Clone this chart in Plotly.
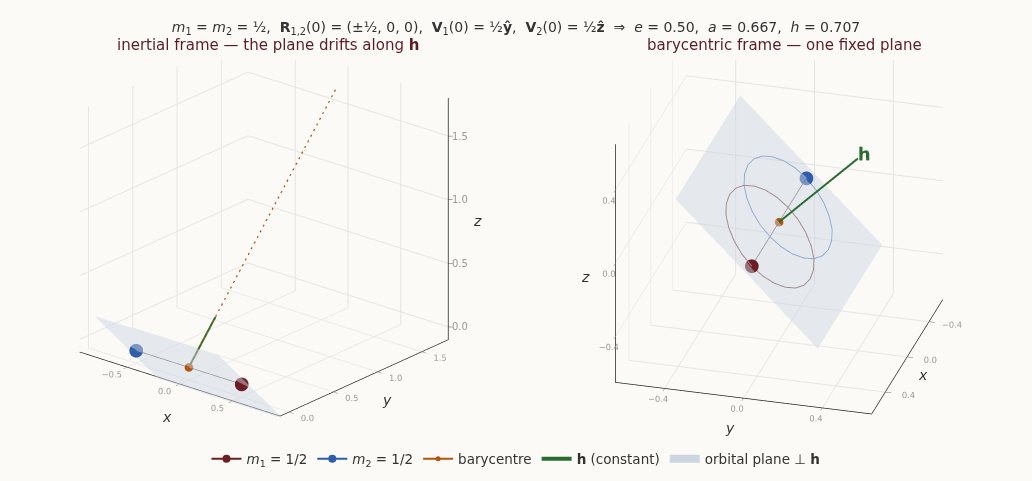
import plotly.graph_objects as go

# colours
C_M1 = "#6b1e24"
C_M2 = "#2e5eaa"
C_BARY = "#b5540f"
C_H = "#2a6b30"
C_PLANE = "#cdd5e1"
C_ORB1 = "#a08587"
C_ORB2 = "#8ea7cf"
BG = "#fbfaf7"

# initial positions (both frames coincide at t=0)
m1_pos = [0.5, 0.0, 0.0]
m2_pos = [-0.5, 0.0, 0.0]
bary_pos = [0.0, 0.0, 0.0]

# barycentre drift in the inertial frame
bary_path_x = [0.0, 0.0]
bary_path_y = [0.0, 1.68]
bary_path_z = [0.0, 1.68]

# h direction (arrow shaft as drawn in each panel)
h_tip_left = [0.0, 0.30, 0.30]
h_tip_right = [0.0, 0.40, 0.40]

# orbital plane corners
plane_x = [-0.59, 0.59, 0.59, -0.59]
plane_y = [-0.36, -0.36, 0.36, 0.36]
plane_z = [0.36, 0.36, -0.36, -0.36]

# orbit of m1 about the barycentre
orb1_x = [-0.167, -0.155, -0.122, -0.069, 0.000, 0.080, 0.167, 0.253, 0.333, 0.402, 0.455, 0.489, 0.500,
          0.489, 0.455, 0.402, 0.333, 0.253, 0.167, 0.080, 0.000, -0.069, -0.122, -0.155, -0.167]
orb1_y = [0.000, 0.053, 0.102, 0.144, 0.177, 0.197, 0.204, 0.197, 0.177, 0.144, 0.102, 0.053, 0.000,
          -0.053, -0.102, -0.144, -0.177, -0.197, -0.204, -0.197, -0.177, -0.144, -0.102, -0.053, 0.000]
orb1_z = [0.000, -0.053, -0.102, -0.144, -0.177, -0.197, -0.204, -0.197, -0.177, -0.144, -0.102, -0.053, 0.000,
          0.053, 0.102, 0.144, 0.177, 0.197, 0.204, 0.197, 0.177, 0.144, 0.102, 0.053, 0.000]
# orbit of m2 about the barycentre
orb2_x = [0.167, 0.155, 0.122, 0.069, 0.000, -0.080, -0.167, -0.253, -0.333, -0.402, -0.455, -0.489, -0.500,
          -0.489, -0.455, -0.402, -0.333, -0.253, -0.167, -0.080, 0.000, 0.069, 0.122, 0.155, 0.167]
orb2_y = [0.000, -0.053, -0.102, -0.144, -0.177, -0.197, -0.204, -0.197, -0.177, -0.144, -0.102, -0.053, 0.000,
          0.053, 0.102, 0.144, 0.177, 0.197, 0.204, 0.197, 0.177, 0.144, 0.102, 0.053, 0.000]
orb2_z = [0.000, 0.053, 0.102, 0.144, 0.177, 0.197, 0.204, 0.197, 0.177, 0.144, 0.102, 0.053, 0.000,
          -0.053, -0.102, -0.144, -0.177, -0.197, -0.204, -0.197, -0.177, -0.144, -0.102, -0.053, 0.000]

# axis ranges and ticks
left_x_range = [-0.95, 0.95]
left_y_range = [-0.1, 1.8]
left_z_range = [-0.1, 1.8]
left_z_ticks = [0.0, 0.5, 1.0, 1.5]
right_range = [-0.65, 0.65]

FONT = "DejaVu Sans"
LEFT_ZOOM = 1.373
RIGHT_ZOOM = 1.396

fig = go.Figure()


def add_plane_and_bodies(scene, legend):
    fig.add_trace(go.Mesh3d(x=plane_x, y=plane_y, z=plane_z, i=[0, 0], j=[1, 2], k=[2, 3],
                            color=C_PLANE, opacity=0.47, flatshading=True, hoverinfo="skip",
                            lighting=dict(ambient=1, diffuse=0, specular=0, roughness=1, fresnel=0),
                            showlegend=False, scene=scene))
    fig.add_trace(go.Scatter3d(x=[m1_pos[0], m2_pos[0]], y=[m1_pos[1], m2_pos[1]], z=[m1_pos[2], m2_pos[2]],
                               mode="lines", line=dict(color="#8a8a8a", width=1.5), showlegend=False,
                               hoverinfo="skip", scene=scene))
    fig.add_trace(go.Scatter3d(x=[m1_pos[0]], y=[m1_pos[1]], z=[m1_pos[2]], mode="lines+markers",
                               marker=dict(size=8, color=C_M1), line=dict(color=C_M1, width=2),
                               name="<i>m</i><sub>1</sub> = 1/2", legendgroup="m1", showlegend=legend, scene=scene))
    fig.add_trace(go.Scatter3d(x=[m2_pos[0]], y=[m2_pos[1]], z=[m2_pos[2]], mode="lines+markers",
                               marker=dict(size=8, color=C_M2), line=dict(color=C_M2, width=2),
                               name="<i>m</i><sub>2</sub> = 1/2", legendgroup="m2", showlegend=legend, scene=scene))


# left panel: the axes live in "scene", the marks in the overlay "scene3"
# (wider hidden ranges so the plane is not cut at the axis box)
fig.add_trace(go.Scatter3d(x=[0], y=[0], z=[0], mode="markers", marker=dict(size=1, opacity=0),
                           hoverinfo="skip", showlegend=False, scene="scene"))
add_plane_and_bodies("scene3", True)
fig.add_trace(go.Scatter3d(x=bary_path_x, y=bary_path_y, z=bary_path_z, mode="lines",
                           line=dict(color=C_BARY, width=2.5, dash="dash"), showlegend=False, scene="scene3"))
fig.add_trace(go.Scatter3d(x=[bary_pos[0]], y=[bary_pos[1]], z=[bary_pos[2]], mode="lines+markers",
                           marker=dict(size=5, color=C_BARY), line=dict(color=C_BARY, width=2),
                           name="barycentre", legendgroup="b", showlegend=True, scene="scene3"))
fig.add_trace(go.Scatter3d(x=[bary_pos[0], h_tip_left[0]], y=[bary_pos[1], h_tip_left[1]],
                           z=[bary_pos[2], h_tip_left[2]],
                           mode="lines", line=dict(color=C_H, width=4), name="<b>h</b> (constant)",
                           legendgroup="h", showlegend=True, scene="scene3"))
# legend entry for the plane
fig.add_trace(go.Scatter3d(x=[None], y=[None], z=[None], mode="lines", line=dict(color=C_PLANE, width=8),
                           name="orbital plane ⊥ <b>h</b>", showlegend=True, scene="scene3"))

# z axis of the left panel on the back-right edge
zx, zy = left_x_range[1], left_y_range[1]
fig.add_trace(go.Scatter3d(x=[zx, zx], y=[zy, zy], z=left_z_range, mode="lines",
                           line=dict(color="#222", width=1.5), hoverinfo="skip", showlegend=False, scene="scene3"))
tick_x, tick_y, tick_z = [], [], []
for t in left_z_ticks:
    tick_x += [zx, zx + 0.025, None]
    tick_y += [zy, zy + 0.021, None]
    tick_z += [t, t, None]
fig.add_trace(go.Scatter3d(x=tick_x, y=tick_y, z=tick_z, mode="lines", line=dict(color="#555", width=1),
                           hoverinfo="skip", showlegend=False, scene="scene3"))

# right panel: barycentric frame
add_plane_and_bodies("scene2", False)
fig.add_trace(go.Scatter3d(x=orb1_x, y=orb1_y, z=orb1_z, mode="lines", line=dict(color=C_ORB1, width=2),
                           showlegend=False, hoverinfo="skip", scene="scene2"))
fig.add_trace(go.Scatter3d(x=orb2_x, y=orb2_y, z=orb2_z, mode="lines", line=dict(color=C_ORB2, width=2),
                           showlegend=False, hoverinfo="skip", scene="scene2"))
fig.add_trace(go.Scatter3d(x=[bary_pos[0], h_tip_right[0]], y=[bary_pos[1], h_tip_right[1]],
                           z=[bary_pos[2], h_tip_right[2]],
                           mode="lines", line=dict(color=C_H, width=4), showlegend=False, scene="scene2"))
fig.add_trace(go.Scatter3d(x=[bary_pos[0]], y=[bary_pos[1]], z=[bary_pos[2]], mode="markers",
                           marker=dict(size=5, color=C_BARY), showlegend=False, scene="scene2"))
fig.add_trace(go.Scatter3d(x=[h_tip_right[0]], y=[h_tip_right[1] * 1.08], z=[h_tip_right[2] * 1.08],
                           mode="text", text=["<b>h</b>"], textposition="middle center",
                           textfont=dict(size=18, color=C_H, family=FONT), showlegend=False, scene="scene2"))
# overlay for the right panel's axis titles
fig.add_trace(go.Scatter3d(x=[0], y=[0], z=[0], mode="markers", marker=dict(size=1, opacity=0),
                           hoverinfo="skip", showlegend=False, scene="scene4"))


def axis(rng, dtick, show_line=True):
    return dict(title=dict(text=""),
                range=rng, dtick=dtick, tickformat=".1f", tickangle=0, showbackground=False,
                gridcolor="#e4e4e4", zeroline=False,
                showline=show_line, linecolor="#222", linewidth=1.5,
                ticks="outside" if show_line else "", ticklen=6, showticklabels=show_line,
                tickcolor="#666", tickfont=dict(size=10, color="#999", family=FONT), showspikes=False)


def hidden(rng, k=3):
    mid = (rng[0] + rng[1]) / 2
    half = (rng[1] - rng[0]) / 2 * k
    return dict(visible=False, range=[mid - half, mid + half])


def axis_label(text, x, y, z):
    return dict(text=f"<i>{text}</i>", x=x, y=y, z=z, showarrow=False,
                font=dict(size=14, color="#333", family=FONT))


def tick_label(t):
    return dict(text=f"{t:.1f}", x=zx + 0.066, y=zy + 0.056, z=t, showarrow=False,
                font=dict(size=10, color="#999", family=FONT))


def ratio(k):
    return dict(x=k, y=k, z=k)


def camera(eye, lift):
    # lift moves the look-at point so the box sits above the centre of its domain
    return dict(eye=dict(x=eye[0], y=eye[1], z=eye[2] + lift), center=dict(x=0, y=0, z=lift),
                projection=dict(type="orthographic"))


LEFT_DOM = dict(x=[0.011, 0.501], y=[0.0, 1.0])
RIGHT_DOM = dict(x=[0.510, 1.0], y=[0.0, 1.0])
LEFT_CAM = camera([0.733, -0.874, 0.470], -0.145)
RIGHT_CAM = camera([1.122, 0.311, 0.580], -0.167)

fig.update_layout(
    width=1032, height=481,
    paper_bgcolor=BG, plot_bgcolor=BG,
    font=dict(family=FONT, color="#333"),
    margin=dict(l=0, r=0, t=60, b=40),
    title=dict(text="<i>m</i><sub>1</sub> = <i>m</i><sub>2</sub> = ½,  <b>R</b><sub>1,2</sub>(0) = (±½, 0, 0),  "
                    "<b>V</b><sub>1</sub>(0) = ½<b>ŷ</b>,  <b>V</b><sub>2</sub>(0) = ½<b>ẑ</b>  ⇒  "
                    "<i>e</i> = 0.50,  <i>a</i> = 0.667,  <i>h</i> = 0.707",
               x=0.5, xanchor="center", y=0.944, yanchor="middle", font=dict(size=14, color="#333")),
    scene=dict(domain=LEFT_DOM, xaxis=axis(left_x_range, 0.5), yaxis=axis(left_y_range, 0.5),
               zaxis=axis(left_z_range, 0.5, show_line=False), aspectmode="manual",
               aspectratio=ratio(LEFT_ZOOM), camera=LEFT_CAM, bgcolor="rgba(0,0,0,0)"),
    scene3=dict(domain=LEFT_DOM, xaxis=hidden(left_x_range), yaxis=hidden(left_y_range),
                zaxis=hidden(left_z_range), aspectmode="manual", aspectratio=ratio(3 * LEFT_ZOOM),
                camera=LEFT_CAM, bgcolor="rgba(0,0,0,0)",
                annotations=[axis_label("x", -0.128, -0.1, -0.393), axis_label("y", 0.95, 1.105, -0.351),
                             axis_label("z", 1.113, 1.939, 0.83)] + [tick_label(t) for t in left_z_ticks]),
    scene2=dict(domain=RIGHT_DOM, xaxis=axis(right_range, 0.4), yaxis=axis(right_range, 0.4),
                zaxis=axis(right_range, 0.4), aspectmode="manual", aspectratio=ratio(RIGHT_ZOOM),
                camera=RIGHT_CAM, bgcolor="rgba(0,0,0,0)"),
    scene4=dict(domain=RIGHT_DOM, xaxis=hidden(right_range), yaxis=hidden(right_range),
                zaxis=hidden(right_range), aspectmode="manual", aspectratio=ratio(3 * RIGHT_ZOOM),
                camera=RIGHT_CAM, bgcolor="rgba(0,0,0,0)",
                annotations=[axis_label("x", 0.17, 0.777, -0.65), axis_label("y", 0.648, -0.07, -0.824),
                             axis_label("z", 0.65, -0.805, -0.098)]),
    legend=dict(orientation="h", x=0.5, xanchor="center", y=-0.047, yanchor="middle",
                font=dict(size=13.5, color="#333"), bgcolor="rgba(0,0,0,0)",
                traceorder="normal"),
    annotations=[
        dict(text="inertial frame — the plane drifts along <b>h</b>", x=0.26, y=1.039, xref="paper", yref="paper",
             showarrow=False, font=dict(size=15, color="#5c1c22"), xanchor="center", yanchor="middle"),
        dict(text="barycentric frame — one fixed plane", x=0.76, y=1.039, xref="paper", yref="paper",
             showarrow=False, font=dict(size=15, color="#5c1c22"), xanchor="center", yanchor="middle"),
    ],
)

fig.write_html("out.html", config={"displayModeBar": False},
               post_script="document.body.style.margin='0';"
                           "document.body.style.background='" + BG + "';")
